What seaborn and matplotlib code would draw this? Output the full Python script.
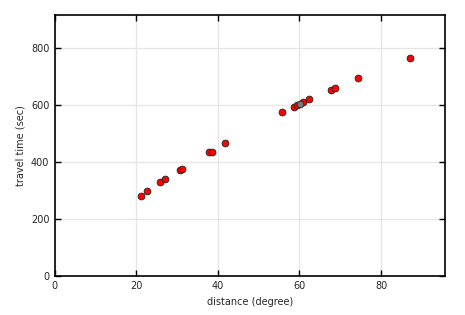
import numpy as np
import pandas as pd
import matplotlib
matplotlib.use("Agg")
import matplotlib.pyplot as plt
import seaborn as sns

# distance (degree) / travel time (sec)
distance = [21.1, 22.6, 25.8, 27.0, 30.7, 31.2, 37.8, 38.5, 41.7, 55.7,
            58.6, 59.3, 60.9, 62.4, 67.7, 68.8, 74.4, 87.1]
travel_time = [281, 298, 330, 340, 372, 376, 435, 435, 467, 576,
               591, 600, 610, 620, 652, 659, 694, 765]
# one point drawn in grey
grey_distance = [60.1]
grey_time = [604]

df = pd.DataFrame({"distance": distance, "time": travel_time})
df_grey = pd.DataFrame({"distance": grey_distance, "time": grey_time})

sns.set_style("whitegrid")
plt.rcParams["font.family"] = ["DejaVu Sans"]

fig = plt.figure(figsize=(4.65, 3.15), dpi=100)
ax = fig.add_axes([0.118, 0.124, 0.839, 0.829])

sns.scatterplot(data=df, x="distance", y="time", color="red", edgecolor="#222222",
                linewidth=0.6, s=24, ax=ax, zorder=3)
sns.scatterplot(data=df_grey, x="distance", y="time", color="#777777", edgecolor="#222222",
                linewidth=0.6, s=24, ax=ax, zorder=4)

ax.set_xlim(0, 95.7)
ax.set_ylim(0, 916)
ax.set_xticks([0, 20, 40, 60, 80])
ax.set_yticks([0, 200, 400, 600, 800])
ax.grid(True, color="#e6e6e6", linewidth=1)
for s in ax.spines.values():
    s.set_color("black")
    s.set_linewidth(1.2)
ax.tick_params(direction="in", length=4, width=1, color="black", labelsize=7, pad=4,
               bottom=True, left=True, top=True, right=True,
               labeltop=False, labelright=False)
ax.set_xlabel("distance (degree)", fontsize=7)
ax.set_ylabel("travel time (sec)", fontsize=7)

fig.savefig("out.png", dpi=100)
